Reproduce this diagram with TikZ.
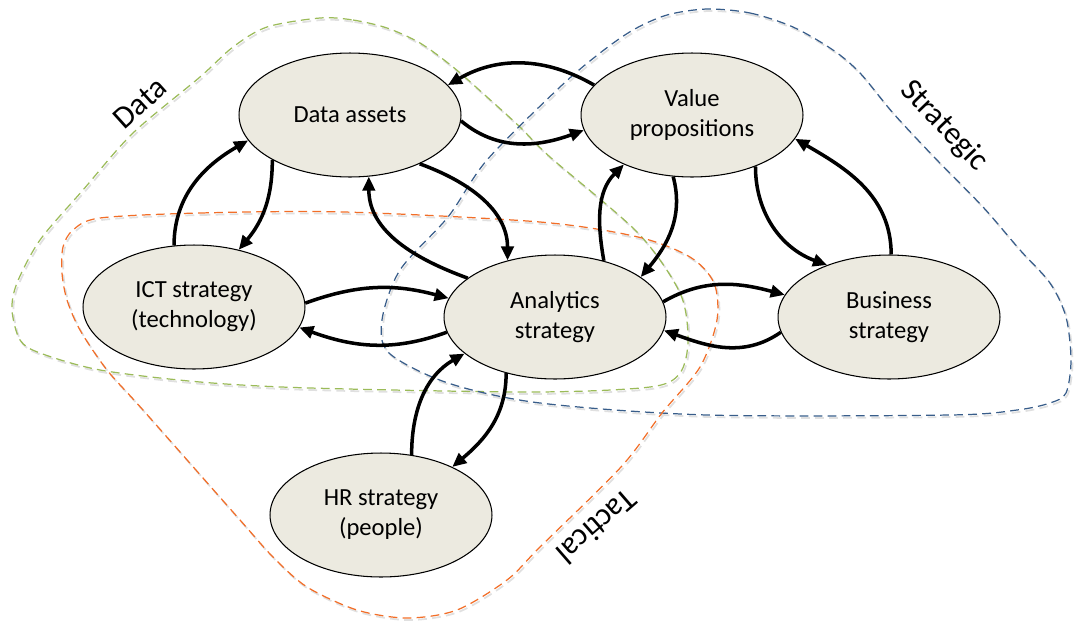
\documentclass[tikz,border=0pt]{standalone}
\usepackage{fontspec}
\setmainfont{Carlito}
\usetikzlibrary{arrows.meta,shapes.geometric}
\definecolor{fillc}{RGB}{236,234,224}
\definecolor{grn}{RGB}{155,187,89}
\definecolor{blu}{RGB}{56,93,138}
\definecolor{org}{RGB}{242,110,40}
\begin{document}
\begin{tikzpicture}[x=0.02cm,y=0.02cm,
  ell/.style={ellipse, draw=black, line width=0.6pt, fill=fillc,
    minimum width=4.44cm, minimum height=2.48cm, inner sep=0pt,
    align=center, font=\fontsize{14}{17}\selectfont},
  conn/.style={line width=2pt, -{Triangle[length=8pt,width=7pt]}},
  region/.style={line width=0.7pt, dash pattern=on 5pt off 3pt},
  regshadow/.style={line width=1pt, dash pattern=on 5pt off 3pt, black!12, shift={(1.5,-2)}},
  lbl/.style={font=\fontsize{18}{20}\selectfont}]
\useasboundingbox (0,0) rectangle (1075,-623);

\def\greenpath{plot[smooth cycle] coordinates {(320,-18) (353,-20) (387,-28) (420,-43) (453,-67) (487,-97) (520,-127) (550,-157) (638,-233) (680,-293) (688,-340) (680,-373) (650,-387) (533,-392) (310,-388) (200,-382) (100,-370) (40,-353) (20,-340) (12,-310) (17,-283) (40,-240) (83,-190) (133,-133) (200,-77) (233,-47) (267,-27)}}
\def\bluepath{plot[smooth cycle] coordinates {(707,-9) (750,-13) (793,-27) (833,-50) (860,-73) (893,-113) (935,-158) (983,-207) (1020,-250) (1050,-283) (1066,-317) (1071,-360) (1066,-393) (1050,-403) (1017,-410) (950,-415) (707,-415) (540,-403) (448,-383) (389,-353) (382,-320) (400,-270) (448,-217) (487,-160) (560,-87) (600,-53) (633,-30) (667,-15)}}
\def\orangepath{plot[smooth cycle] coordinates {(100,-218) (200,-213) (344,-212) (540,-222) (638,-237) (690,-257) (714,-283) (717,-320) (700,-367) (662,-413) (621,-467) (540,-547) (507,-580) (457,-610) (407,-618) (357,-610) (307,-587) (273,-557) (240,-520) (143,-410) (107,-370) (80,-330) (67,-300) (62,-273) (63,-247) (73,-230)}}

% group regions (shadows)
\draw[regshadow] \greenpath;
\draw[regshadow] \bluepath;
\draw[regshadow] \orangepath;

% group regions
\draw[region, grn] \greenpath;
\draw[region, blu] \bluepath;
\draw[region, org] \orangepath;

% labels
\node[lbl, rotate=42] (ldata) at (140,-103) {Data};
\node[lbl, rotate=-46] (lstrat) at (944,-126) {Strategic};
\node[lbl, rotate=-139] (ltact) at (597,-527) {Tactical};

% nodes
\node[ell] (da) at (350,-115) {Data assets};
\node[ell] (vp) at (692,-115) {Value\\propositions};
\node[ell] (ict) at (194,-307) {ICT strategy\\(technology)};
\node[ell] (an) at (555,-317) {Analytics\\strategy};
\node[ell] (bs) at (889,-317) {Business\\strategy};
\node[ell] (hr) at (381,-515) {HR strategy\\(people)};

% connectors
\draw[conn] (vp.163) to[out=150,in=30] (da.17);
\draw[conn] (da.-3) to[out=-40,in=200] (vp.188);
\draw[conn] (ict.108) to[out=90,in=210] (da.194);
\draw[conn] (da.210) to[out=-90,in=50] (ict.52);
\draw[conn] (an.156) to[out=160,in=-90] (da.-73);
\draw[conn] (da.-35) to[out=-20,in=90] (an.130);
\draw[conn] (ict.2) to[out=20,in=165] (an.170);
\draw[conn] (an.188) to[out=200,in=-20] (ict.-11);
\draw[conn] (an.49) to[out=100,in=225] (vp.216);
\draw[conn] (vp.253) to[out=-75,in=50] (an.25);
\draw[conn] (vp.-39) to[out=-90,in=160] (bs.140);
\draw[conn] (bs.88) to[out=90,in=-30] (vp.-13);
\draw[conn] (an.8) to[out=30,in=165] (bs.168);
\draw[conn] (bs.188) to[out=215,in=-20] (an.-7);
\draw[conn] (hr.63) to[out=90,in=210] (an.202);
\draw[conn] (an.229) to[out=-90,in=40] (hr.34);
\end{tikzpicture}
\end{document}
